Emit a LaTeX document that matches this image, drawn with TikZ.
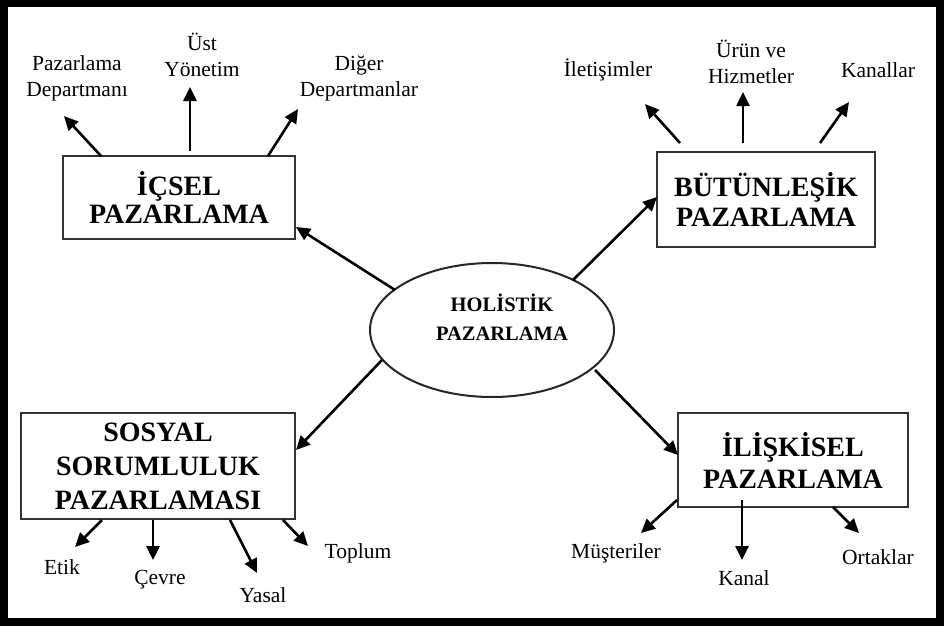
\documentclass[tikz,border=0pt]{standalone}
\usepackage{fontspec}
\setmainfont{Liberation Serif}
\usetikzlibrary{shapes.geometric,arrows.meta}
\begin{document}
\begin{tikzpicture}[x=1pt,y=-1pt,
  box/.style={draw=black!80,line width=2pt,rectangle,inner sep=0pt,align=center,
    font=\fontsize{28}{31}\selectfont\bfseries},
  lbl/.style={font=\fontsize{21.5}{26.5}\selectfont,align=center,inner sep=0pt},
  arr/.style={line width=2.6pt,-{Triangle[length=14pt,width=13pt]}}]
\fill[black] (0,0) rectangle (944,626);
\fill[white] (8,7) rectangle (936,618);
\useasboundingbox (0,0) rectangle (944,626);

% central ellipse
\node[draw=black!85,line width=2pt,ellipse,minimum width=244pt,minimum height=134pt,inner sep=0pt] (holistik) at (492,330) {};
\node[font=\fontsize{20.5}{29}\selectfont\bfseries,align=center,inner sep=0pt] (holtext) at (502,317) {HOLİSTİK\\PAZARLAMA};

% boxes
\node[box,minimum width=232pt,minimum height=83pt,font=\fontsize{28}{28}\selectfont\bfseries] (icsel) at (179,197.5) {İÇSEL\\PAZARLAMA};
\node[box,minimum width=218pt,minimum height=95pt,font=\fontsize{28}{30}\selectfont\bfseries] (butun) at (766,199.5) {BÜTÜNLEŞİK\\PAZARLAMA};
\node[box,minimum width=274pt,minimum height=106pt,font=\fontsize{28}{34}\selectfont\bfseries] (sosyal) at (158,466) {SOSYAL\\SORUMLULUK\\PAZARLAMASI};
\node[box,minimum width=230pt,minimum height=94pt,font=\fontsize{28}{32}\selectfont\bfseries] (iliski) at (793,460) {İLİŞKİSEL\\PAZARLAMA};

% labels
\node[lbl] (pd) at (77,78.5) {Pazarlama\\Departmanı};
\node[lbl] (ust) at (202,55) {Üst\\Yönetim};
\node[lbl] (diger) at (359,78.5) {Diğer\\Departmanlar};
\node[lbl] (ilet) at (608,70) {İletişimler};
\node[lbl] (urun) at (751,62) {Ürün ve\\Hizmetler};
\node[lbl] (kanallar) at (878,70) {Kanallar};
\node[lbl] (etik) at (62,567) {Etik};
\node[lbl] (cevre) at (160,580) {Çevre};
\node[lbl] (yasal) at (263,595) {Yasal};
\node[lbl] (toplum) at (358,553) {Toplum};
\node[lbl] (must) at (616,553) {Müşteriler};
\node[lbl] (kanal) at (744,578) {Kanal};
\node[lbl] (ortak) at (878,557) {Ortaklar};

% connector end points
\coordinate (h1) at (395,290); \coordinate (i0) at (296,227);
\coordinate (h2) at (573,280); \coordinate (b0) at (657,197);
\coordinate (h3) at (382,360); \coordinate (s0) at (296,450);
\coordinate (h4) at (595,370); \coordinate (l0) at (678,455);

\coordinate (i1) at (101,156); \coordinate (i1t) at (64,116);
\coordinate (i2) at (190,151); \coordinate (i2t) at (190,87);
\coordinate (i3) at (268,156); \coordinate (i3t) at (298,109);

\coordinate (b1) at (680,143); \coordinate (b1t) at (645,104);
\coordinate (b2) at (743,143); \coordinate (b2t) at (743,92);
\coordinate (b3) at (820,143); \coordinate (b3t) at (849,102);

\coordinate (s1) at (102,520); \coordinate (s1t) at (75,547);
\coordinate (s2) at (153,520); \coordinate (s2t) at (153,560);
\coordinate (s3) at (230,520); \coordinate (s3t) at (257,573);
\coordinate (s4) at (283,520); \coordinate (s4t) at (308,546);

\coordinate (l1) at (677,500); \coordinate (l1t) at (641,533);
\coordinate (l2) at (742,500); \coordinate (l2t) at (742,560);
\coordinate (l3) at (833,507); \coordinate (l3t) at (859,533);

% connectors
\draw[arr] (h1) -- (i0);
\draw[arr] (h2) -- (b0);
\draw[arr] (h3) -- (s0);
\draw[arr] (h4) -- (l0);
\draw[arr] (i1) -- (i1t);
\draw[arr] (i2) -- (i2t);
\draw[arr] (i3) -- (i3t);
\draw[arr] (b1) -- (b1t);
\draw[arr] (b2) -- (b2t);
\draw[arr] (b3) -- (b3t);
\draw[arr] (s1) -- (s1t);
\draw[arr] (s2) -- (s2t);
\draw[arr] (s3) -- (s3t);
\draw[arr] (s4) -- (s4t);
\draw[arr] (l1) -- (l1t);
\draw[arr] (l2) -- (l2t);
\draw[arr] (l3) -- (l3t);
\end{tikzpicture}
\end{document}
